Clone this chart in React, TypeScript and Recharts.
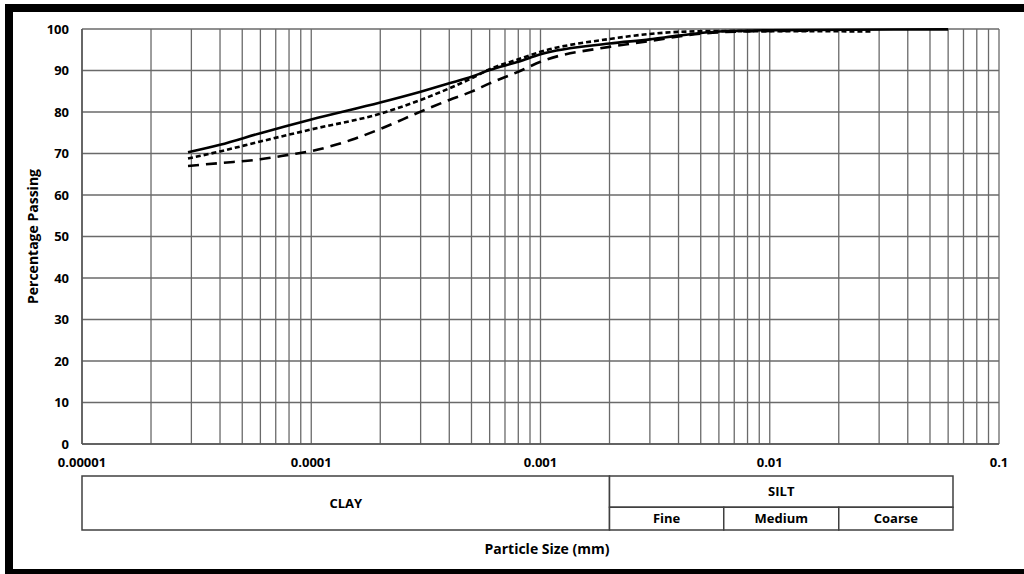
import React from "react";
import {
  LineChart,
  Line,
  XAxis,
  YAxis,
  CartesianGrid,
  ReferenceArea,
} from "recharts";

// particle sizes (mm) and percentage passing for the three samples
const sizesA = [0.000029, 0.00004, 0.00006, 0.0001, 0.0002, 0.0003, 0.0004, 0.0005, 0.0006, 0.0008, 0.001, 0.002, 0.003, 0.004, 0.006, 0.01, 0.06];
const passingA = [70.3, 72.1, 74.9, 78.2, 82.3, 84.9, 86.9, 88.5, 90.1, 92.1, 93.9, 96.5, 97.5, 98.4, 99.4, 99.7, 99.9];

const sizesB = [0.000029, 0.00004, 0.00006, 0.0001, 0.0002, 0.0003, 0.0004, 0.0005, 0.0006, 0.0008, 0.001, 0.002, 0.003, 0.004, 0.006, 0.01, 0.028];
const passingB = [68.8, 70.5, 72.9, 75.8, 79.6, 82.9, 85.7, 88.1, 90.3, 92.7, 94.5, 97.6, 98.8, 99.3, 99.5, 99.5, 99.4];

const sizesC = [0.000029, 0.00004, 0.00006, 0.00008, 0.0001, 0.00015, 0.0002, 0.0003, 0.0004, 0.0005, 0.0006, 0.0008, 0.001, 0.002, 0.003, 0.004, 0.006, 0.01, 0.015];
const passingC = [67.0, 67.7, 68.6, 69.7, 70.6, 73.3, 75.9, 80.1, 82.9, 84.9, 86.9, 89.7, 92.1, 95.7, 97.1, 98.2, 99.2, 99.5, 99.6];

const decades = [0.00001, 0.0001, 0.001, 0.01, 0.1];
const minorSteps = [1, 2, 3, 4, 5, 6, 7, 8, 9];
const yTicks = [0, 10, 20, 30, 40, 50, 60, 70, 80, 90, 100];

// soil classification bands (BS 5930)
const bandLabels = ["CLAY", "SILT", "Fine", "Medium", "Coarse"];
const bandFrom = [0.00001, 0.002, 0.002, 0.0063, 0.02];
const bandTo = [0.002, 0.063, 0.0063, 0.02, 0.063];
const bandRow = ["full", "top", "bottom", "bottom", "bottom"];

const xTicks = decades
  .slice(0, -1)
  .flatMap((d) => minorSteps.map((m) => (m === 1 ? d : +(d * m).toPrecision(3))))
  .concat([0.1]);

const toPoints = (xs: number[], ys: number[]) => xs.map((x, i) => ({ x, y: ys[i] }));

const FONT = "'Open Sans', sans-serif";
const GRID = "#6a6a6a";

export default function App() {
  const tickStyle = { fill: "#000", fontSize: 13, fontWeight: 700 };
  const bandData = bandFrom.map((x) => ({ x, y: 50 }));
  return (
    <div
      style={{
        position: "absolute",
        left: 0,
        top: 0,
        width: 1024,
        height: 574,
        overflow: "hidden",
        background: "#fff",
        fontFamily: FONT,
      }}
    >
      <div
        style={{
          position: "absolute",
          left: 5,
          top: 4,
          width: 1100,
          height: 573,
          boxSizing: "border-box",
          border: "8px solid #000",
        }}
      />
      <div style={{ position: "absolute", left: 0, top: 0 }}>
        <LineChart width={1024} height={480} margin={{ top: 29, right: 25, left: 20, bottom: 6 }}>
          <CartesianGrid stroke={GRID} strokeWidth={1.3} />
          <XAxis
            dataKey="x"
            type="number"
            scale="log"
            domain={[0.00001, 0.1]}
            allowDataOverflow
            ticks={xTicks}
            interval={0}
            tickFormatter={(v: number) => (decades.includes(v) ? String(v) : "")}
            tickLine={false}
            tickMargin={8}
            height={30}
            axisLine={{ stroke: "#555", strokeWidth: 1.5 }}
            tick={tickStyle}
          />
          <YAxis
            type="number"
            domain={[0, 100]}
            ticks={yTicks}
            interval={0}
            width={62}
            tickLine={false}
            tickMargin={7}
            axisLine={{ stroke: "#555", strokeWidth: 1.5 }}
            tick={tickStyle}
            label={{
              value: "Percentage Passing",
              angle: -90,
              position: "insideLeft",
              offset: 13,
              style: { textAnchor: "middle", fill: "#000", fontSize: 14, fontWeight: 700 },
            }}
          />
          <Line
            data={toPoints(sizesA, passingA)}
            dataKey="y"
            type="monotone"
            stroke="#000"
            strokeWidth={2.6}
            dot={false}
            isAnimationActive={false}
          />
          <Line
            data={toPoints(sizesB, passingB)}
            dataKey="y"
            type="monotone"
            stroke="#000"
            strokeWidth={2.6}
            strokeDasharray="5 3"
            dot={false}
            isAnimationActive={false}
          />
          <Line
            data={toPoints(sizesC, passingC)}
            dataKey="y"
            type="monotone"
            stroke="#000"
            strokeWidth={2.6}
            strokeDasharray="11 7"
            dot={false}
            isAnimationActive={false}
          />
        </LineChart>
      </div>
      <div style={{ position: "absolute", left: 0, top: 475 }}>
        <LineChart width={1024} height={56} data={bandData} margin={{ top: 1, right: 25, left: 82, bottom: 1 }}>
          <XAxis
            dataKey="x"
            type="number"
            scale="log"
            domain={[0.00001, 0.1]}
            allowDataOverflow
            height={0}
            tick={false}
            tickLine={false}
            axisLine={false}
          />
          <YAxis type="number" domain={[0, 100]} width={0} tick={false} tickLine={false} axisLine={false} />
          <Line dataKey="y" stroke="none" dot={false} isAnimationActive={false} />
          {bandLabels.map((label, i) => (
            <ReferenceArea
              key={label}
              x1={bandFrom[i]}
              x2={bandTo[i]}
              y1={bandRow[i] === "top" ? 42 : 0}
              y2={bandRow[i] === "bottom" ? 42 : 100}
              ifOverflow="visible"
              fill="#fff"
              fillOpacity={1}
              stroke="#404040"
              strokeWidth={1.5}
              label={{ value: label, position: "center", fill: "#000", fontSize: 13, fontWeight: 700 }}
            />
          ))}
        </LineChart>
      </div>
      <div
        style={{
          position: "absolute",
          left: 437,
          width: 220,
          top: 539,
          textAlign: "center",
          fontSize: 14,
          fontWeight: 700,
          color: "#000",
        }}
      >
        Particle Size (mm)
      </div>
    </div>
  );
}
